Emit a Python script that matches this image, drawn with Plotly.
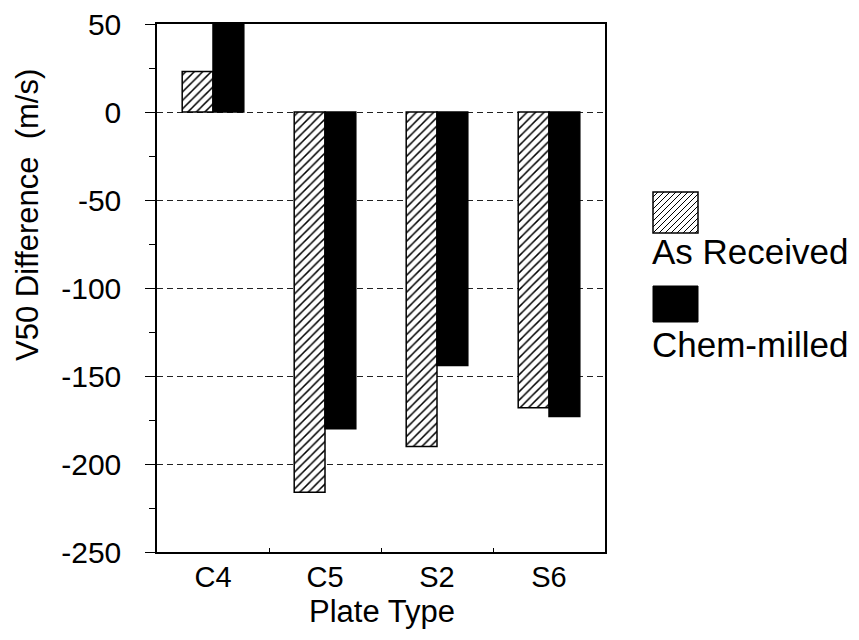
import plotly.graph_objects as go

plate_types = ["C4", "C5", "S2", "S6"]
as_received = [23, -216, -190, -168]
chem_milled = [50, -180, -144, -173]
y_tickvals = [50, 0, -50, -100, -150, -200, -250]
y_ticktext = ["50", "0", "-50", "-100", "-150", "-200", "-250"]
series_names = ["As Received", "Chem-milled"]

W, H = 859, 640
OFF = 8  # page body margin
PL, PR, PT, PB = 157, 605, 24, 552  # plot area in screen pixels
FONT = "Liberation Sans, Arial, Helvetica, sans-serif"


def px2x(sx):
    return (sx - PL) / (PR - PL)


def px2y(sy):
    return (PB - sy) / (PB - PT)


fig = go.Figure()
fig.add_trace(go.Bar(
    x=plate_types, y=as_received, name=series_names[0],
    marker=dict(color="white", line=dict(color="black", width=1.5),
                pattern=dict(shape="/", size=6, solidity=0.25,
                             fgcolor="black", bgcolor="white", fillmode="replace")),
    showlegend=False,
))
fig.add_trace(go.Bar(
    x=plate_types, y=chem_milled, name=series_names[1],
    marker=dict(color="black", line=dict(color="black", width=1.5)),
    showlegend=False,
))

# manual legend (swatch above text)
shapes = []
bx0, by0, bx1, by1 = 653, 192, 698, 233
shapes.append(dict(type="rect", xref="paper", yref="paper",
                   x0=px2x(bx0), x1=px2x(bx1), y0=px2y(by1), y1=px2y(by0),
                   fillcolor="white", line=dict(color="black", width=1.5)))
segs = []
k = bx0 + by0 + 5
while k < bx1 + by1:
    pts = []
    for sx in (bx0, bx1):
        sy = k - sx
        if by0 <= sy <= by1:
            pts.append((sx, sy))
    for sy in (by0, by1):
        sx = k - sy
        if bx0 < sx < bx1:
            pts.append((sx, sy))
    if len(pts) >= 2:
        (ax, ay), (cx, cy) = pts[0], pts[1]
        segs.append(f"M{px2x(ax)},{px2y(ay)} L{px2x(cx)},{px2y(cy)}")
    k += 6
shapes.append(dict(type="path", xref="paper", yref="paper", path=" ".join(segs),
                   line=dict(color="black", width=1)))
shapes.append(dict(type="rect", xref="paper", yref="paper",
                   x0=px2x(653), x1=px2x(698), y0=px2y(322), y1=px2y(286),
                   fillcolor="black", line=dict(color="black", width=1)))

annotations = [
    dict(text=series_names[0], xref="paper", yref="paper", x=px2x(650), y=px2y(252),
         xanchor="left", yanchor="middle", showarrow=False,
         font=dict(family=FONT, size=35, color="black")),
    dict(text=series_names[1], xref="paper", yref="paper", x=px2x(650), y=px2y(344),
         xanchor="left", yanchor="middle", showarrow=False,
         font=dict(family=FONT, size=35, color="black")),
    dict(text="V50 Difference\u00a0 (m/s)", xref="paper", yref="paper",
         x=px2x(28), y=px2y(215), xanchor="center", yanchor="middle",
         textangle=-90, showarrow=False,
         font=dict(family=FONT, size=31, color="black")),
    dict(text="Plate Type", xref="paper", yref="paper",
         x=px2x(382), y=px2y(611), xanchor="center", yanchor="middle",
         showarrow=False,
         font=dict(family=FONT, size=31, color="black")),
]

fig.update_layout(
    width=W, height=H,
    margin=dict(l=PL - OFF, r=W - (PR - OFF), t=PT - OFF, b=H - (PB - OFF), pad=0),
    paper_bgcolor="white", plot_bgcolor="white",
    barmode="group", bargap=0.45, bargroupgap=0,
    font=dict(family=FONT, color="black"),
    shapes=shapes, annotations=annotations,
)
fig.update_xaxes(
    automargin=False,
    showline=True, linecolor="black", linewidth=1.5, mirror=True,
    ticks="inside", ticklen=4, tickcolor="black", tickson="boundaries",
    showgrid=False,
    tickfont=dict(family=FONT, size=29, color="black"),
    ticklabelstandoff=-2,
)
fig.update_yaxes(
    automargin=False,
    range=[-250, 50], tickvals=y_tickvals, ticktext=y_ticktext,
    showline=True, linecolor="black", linewidth=1.5, mirror=True,
    ticks="outside", ticklen=10, tickcolor="black",
    minor=dict(dtick=25, tick0=0, ticks="outside", ticklen=6, tickcolor="black", showgrid=False),
    showgrid=True, gridcolor="#222222", gridwidth=1, griddash="6px,4px",
    zeroline=False, ticklabeloverflow="allow",
    tickfont=dict(family=FONT, size=30, color="black"),
    ticklabelstandoff=18,
)

fig.write_html("out.html")
